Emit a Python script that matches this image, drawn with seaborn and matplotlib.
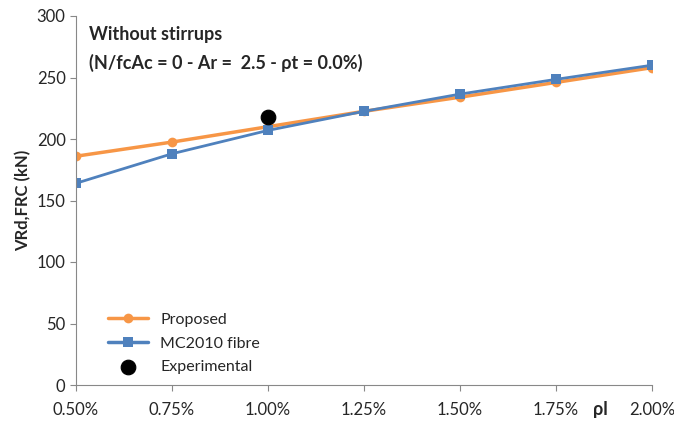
import pandas as pd
import seaborn as sns
import matplotlib.pyplot as plt
from matplotlib.ticker import FuncFormatter

# reinforcement ratio (%) and shear strength (kN)
rho_l = [0.50, 0.75, 1.00, 1.25, 1.50, 1.75, 2.00]
proposed = [186, 197.5, 210, 222.5, 234, 246, 258]
mc2010 = [164, 188, 207, 222.5, 236.5, 248.5, 260]
exp_rho = [1.00]
exp_v = [218]

df = pd.DataFrame({'rho': rho_l * 2,
                   'V': proposed + mc2010,
                   'model': ['Proposed'] * len(rho_l) + ['MC2010 fibre'] * len(rho_l)})

sns.set_style('white')
plt.rcParams['font.family'] = ['Lato', 'DejaVu Sans']

fig = plt.figure(figsize=(6.74, 4.25), dpi=100)
ax = fig.add_axes([76 / 674, 40 / 425, 576 / 674, 369 / 425])

sns.lineplot(data=df, x='rho', y='V', hue='model', style='model',
             palette={'Proposed': '#f79646', 'MC2010 fibre': '#4f81bd'},
             markers={'Proposed': 'o', 'MC2010 fibre': 's'},
             dashes=False, linewidth=2.5, markersize=7, markeredgewidth=0, ax=ax)
ax.lines[1].set_linewidth(2)
sns.scatterplot(x=exp_rho, y=exp_v, color='black', s=110, edgecolor='black',
                label='Experimental', ax=ax, zorder=5)

ax.set_xlim(0.5, 2.0)
ax.set_ylim(0, 300)
ax.set_xticks(rho_l)
ax.set_yticks(range(0, 301, 50))
ax.xaxis.set_major_formatter(FuncFormatter(lambda v, p: f'{v:.2f}%'))
ax.tick_params(axis='both', direction='out', length=4, color='#888888',
               labelsize=12, bottom=True, left=True)
ax.tick_params(axis='x', pad=8)
for s in ['top', 'right']:
    ax.spines[s].set_visible(False)
for s in ['left', 'bottom']:
    ax.spines[s].set_color('#888888')

ax.set_xlabel('')
ax.set_ylabel('VRd,FRC (kN)', fontsize=12, fontweight='bold')
fig.text(600 / 674, 15 / 425, 'ρl', fontsize=13, fontweight='bold', ha='center', va='center')

ax.text(0.535, 285, 'Without stirrups', fontsize=13, fontweight='bold', va='center')
ax.text(0.535, 262, '(N/fcAc = 0 - Ar =  2.5 - ρt = 0.0%)', fontsize=13,
        fontweight='bold', va='center')

handles, labels = ax.get_legend_handles_labels()
ax.legend(handles, labels, loc='lower left', bbox_to_anchor=(0.03, -0.01),
          frameon=False, fontsize=11.5, handlelength=2.5, labelspacing=0.6)

fig.savefig('out.png', dpi=100)
